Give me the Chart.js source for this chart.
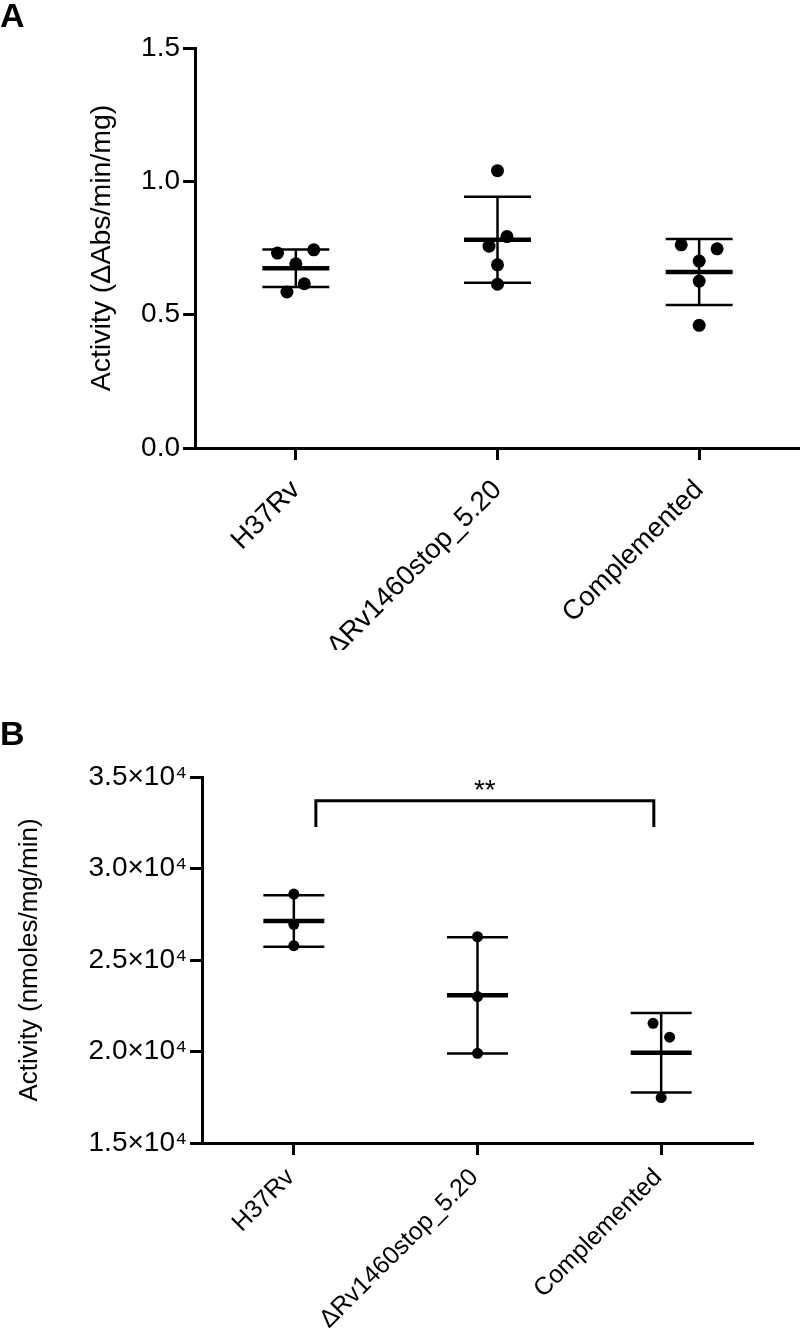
<!DOCTYPE html>
<html><head><meta charset="utf-8">
<script src="https://cdn.jsdelivr.net/npm/chart.js@4.4.0/dist/chart.umd.min.js"></script>
<style>
html,body{margin:0;padding:0;background:#fff;width:800px;height:1331px;overflow:hidden}
#wrapA{position:absolute;left:0;top:0;width:800px;height:650px}
#wrapB{position:absolute;left:0;top:650px;width:800px;height:681px}
canvas{display:block}
</style></head><body>
<div id="wrapA"><canvas id="cA" width="800" height="650"></canvas></div>
<div id="wrapB"><canvas id="cB" width="800" height="681"></canvas></div>
<script>
// ---------- data ----------
const categories = ['H37Rv', 'ΔRv1460stop_5.20', 'Complemented'];

// Panel A: Activity (ΔAbs/min/mg)
const valuesA_H37Rv = [0.731, 0.743, 0.691, 0.616, 0.585];
const valuesA_Delta = [1.040, 0.793, 0.757, 0.687, 0.614];
const valuesA_Comp  = [0.762, 0.747, 0.701, 0.626, 0.460];
const jitterA_H37Rv = [-0.091, 0.089, 0, 0.042, -0.044];
const jitterA_Delta = [0, 0.047, -0.042, 0, 0];
const jitterA_Comp  = [-0.089, 0.089, 0, 0, 0];
const meanA = [0.674, 0.781, 0.660];
const sdA   = [0.070, 0.161, 0.124];
const yTicksA = [0, 0.5, 1.0, 1.5];
const yTickLabelsA = ['0.0', '0.5', '1.0', '1.5'];

// Panel B: Activity (nmoles/mg/min)
const valuesB_H37Rv = [28600, 26950, 25780];
const valuesB_Delta = [26270, 23000, 19900];
const valuesB_Comp  = [21540, 20780, 17480];
const jitterB_H37Rv = [0, 0, 0];
const jitterB_Delta = [0, 0, 0];
const jitterB_Comp  = [-0.044, 0.046, 0];
const meanB = [27130, 23070, 19930];
const sdB   = [1410, 3180, 2170];
const yTicksB = [15000, 20000, 25000, 30000, 35000];
const yTickLabelsB = ['1.5×10⁴', '2.0×10⁴', '2.5×10⁴', '3.0×10⁴', '3.5×10⁴'];
const bracketB = {from: 1.12, to: 2.96, top: 33700, bottom: 32270, label: '**'};

// ---------- helpers ----------
const FONT = '"Liberation Sans", Arial, Helvetica, sans-serif';
function pts(vals, jit, idx){ return vals.map((v,i)=>({x: idx + jit[i], y: v})); }

const errBars = {
  id: 'errBars',
  beforeDatasetsDraw(chart, args, o){
    const {ctx, scales:{x, y}} = chart;
    ctx.save();
    ctx.strokeStyle = '#000';
    o.means.forEach((m, i) => {
      const c = i + 1;
      const xl = x.getPixelForValue(c - o.half), xr = x.getPixelForValue(c + o.half), xc = x.getPixelForValue(c);
      const yt = y.getPixelForValue(m + o.sds[i]), yb = y.getPixelForValue(m - o.sds[i]), ym = y.getPixelForValue(m);
      ctx.lineWidth = o.thin;
      ctx.beginPath();
      ctx.moveTo(xc, yt); ctx.lineTo(xc, yb);
      ctx.moveTo(xl, yt); ctx.lineTo(xr, yt);
      ctx.moveTo(xl, yb); ctx.lineTo(xr, yb);
      ctx.stroke();
      ctx.lineWidth = o.thick;
      ctx.beginPath(); ctx.moveTo(xl, ym); ctx.lineTo(xr, ym); ctx.stroke();
    });
    ctx.restore();
  }
};

const panelLetter = {
  id: 'panelLetter',
  afterDraw(chart, args, o){
    const ctx = chart.ctx;
    ctx.save();
    ctx.fillStyle = '#000';
    ctx.font = 'bold 34px ' + FONT;
    ctx.textAlign = 'left'; ctx.textBaseline = 'alphabetic';
    ctx.fillText(o.text, o.x, o.y);
    ctx.restore();
  }
};

const bracket = {
  id: 'bracket',
  afterDatasetsDraw(chart, args, o){
    if (!o.data) return;
    const {ctx, scales:{x, y}} = chart;
    const b = o.data;
    const x1 = x.getPixelForValue(b.from), x2 = x.getPixelForValue(b.to);
    const yt = y.getPixelForValue(b.top), yb = y.getPixelForValue(b.bottom);
    ctx.save();
    ctx.strokeStyle = '#000'; ctx.lineWidth = 3; ctx.lineJoin = 'miter';
    ctx.beginPath(); ctx.moveTo(x1, yb); ctx.lineTo(x1, yt); ctx.lineTo(x2, yt); ctx.lineTo(x2, yb); ctx.stroke();
    ctx.fillStyle = '#000'; ctx.font = '28px ' + FONT;
    ctx.textAlign = 'center'; ctx.textBaseline = 'alphabetic';
    ctx.fillText(b.label, (x1 + x2) / 2, yt - 2);
    ctx.restore();
  }
};

function makeChart(id, cfg){
  const ds = cfg.series.map(s => ({
    type: 'scatter', data: s, showLine: false,
    pointRadius: cfg.r, pointHoverRadius: cfg.r,
    backgroundColor: '#000', borderColor: '#000', borderWidth: 0, clip: false
  }));
  return new Chart(document.getElementById(id), {
    type: 'scatter',
    data: { datasets: ds },
    plugins: [errBars, panelLetter, bracket],
    options: {
      responsive: false, animation: false, devicePixelRatio: 1,
      layout: { autoPadding: false, padding: { top: cfg.top, right: cfg.right, left: 0, bottom: 0 } },
      plugins: {
        legend: { display: false }, tooltip: { enabled: false },
        errBars: { means: cfg.means, sds: cfg.sds, half: 0.166, thin: cfg.thin, thick: cfg.thick },
        panelLetter: { text: cfg.letter, x: 0, y: cfg.letterY },
        bracket: { data: cfg.bracket }
      },
      scales: {
        x: {
          type: 'linear', min: 0.5, max: 3.5,
          afterBuildTicks: s => { s.ticks = [1, 2, 3].map(v => ({ value: v })); },
          afterFit: s => { s.height = cfg.xHeight; s.paddingRight = 0; s.paddingLeft = 0; },
          border: { display: true, color: '#000', width: 3 },
          grid: { display: true, drawOnChartArea: false, drawTicks: true, tickLength: 12, tickWidth: 3, tickColor: '#000', color: '#000' },
          ticks: {
            autoSkip: false, maxRotation: 45, minRotation: 45, padding: cfg.xPad, labelOffset: cfg.xOff,
            color: '#000', font: { family: FONT, size: cfg.xFont },
            callback: v => categories[Math.round(v) - 1]
          }
        },
        y: {
          type: 'linear', min: cfg.yTicks[0], max: cfg.yTicks[cfg.yTicks.length - 1],
          afterBuildTicks: s => { s.ticks = cfg.yTicks.map(v => ({ value: v })); },
          afterFit: s => { s.width = cfg.yWidth; },
          border: { display: true, color: '#000', width: 3 },
          grid: { display: true, drawOnChartArea: false, drawTicks: true, tickLength: 12, tickWidth: 3, tickColor: '#000', color: '#000' },
          ticks: {
            padding: 3, color: '#000', font: { family: FONT, size: cfg.yFont },
            callback: (v) => cfg.yLabels[cfg.yTicks.indexOf(v)]
          },
          title: {
            display: true, text: cfg.yTitle, color: '#000',
            font: { family: FONT, size: cfg.titleFont, weight: 'normal' },
            padding: { top: cfg.titlePad, bottom: 0 }
          }
        }
      }
    }
  });
}

makeChart('cA', {
  series: [pts(valuesA_H37Rv, jitterA_H37Rv, 1), pts(valuesA_Delta, jitterA_Delta, 2), pts(valuesA_Comp, jitterA_Comp, 3)],
  means: meanA, sds: sdA, r: 6.5, thin: 2.5, thick: 4.5,
  top: 48, right: 0, xHeight: 202, yWidth: 195, xPad: 14, xOff: 0, xFont: 27.5, yFont: 28,
  yTicks: yTicksA, yLabels: yTickLabelsA,
  yTitle: 'Activity (ΔAbs/min/mg)', titleFont: 28.5, titlePad: 85,
  letter: 'A', letterY: 27, bracket: null
});

makeChart('cB', {
  series: [pts(valuesB_H37Rv, jitterB_H37Rv, 1), pts(valuesB_Delta, jitterB_Delta, 2), pts(valuesB_Comp, jitterB_Comp, 3)],
  means: meanB, sds: sdB, r: 5.5, thin: 2.5, thick: 4.5,
  top: 127, right: 47, xHeight: 188, yWidth: 202, xPad: 8, xOff: -3, xFont: 25, yFont: 28,
  yTicks: yTicksB, yLabels: yTickLabelsB,
  yTitle: 'Activity (nmoles/mg/min)', titleFont: 26, titlePad: 14,
  letter: 'B', letterY: 95, bracket: bracketB
});
</script>
</body></html>
